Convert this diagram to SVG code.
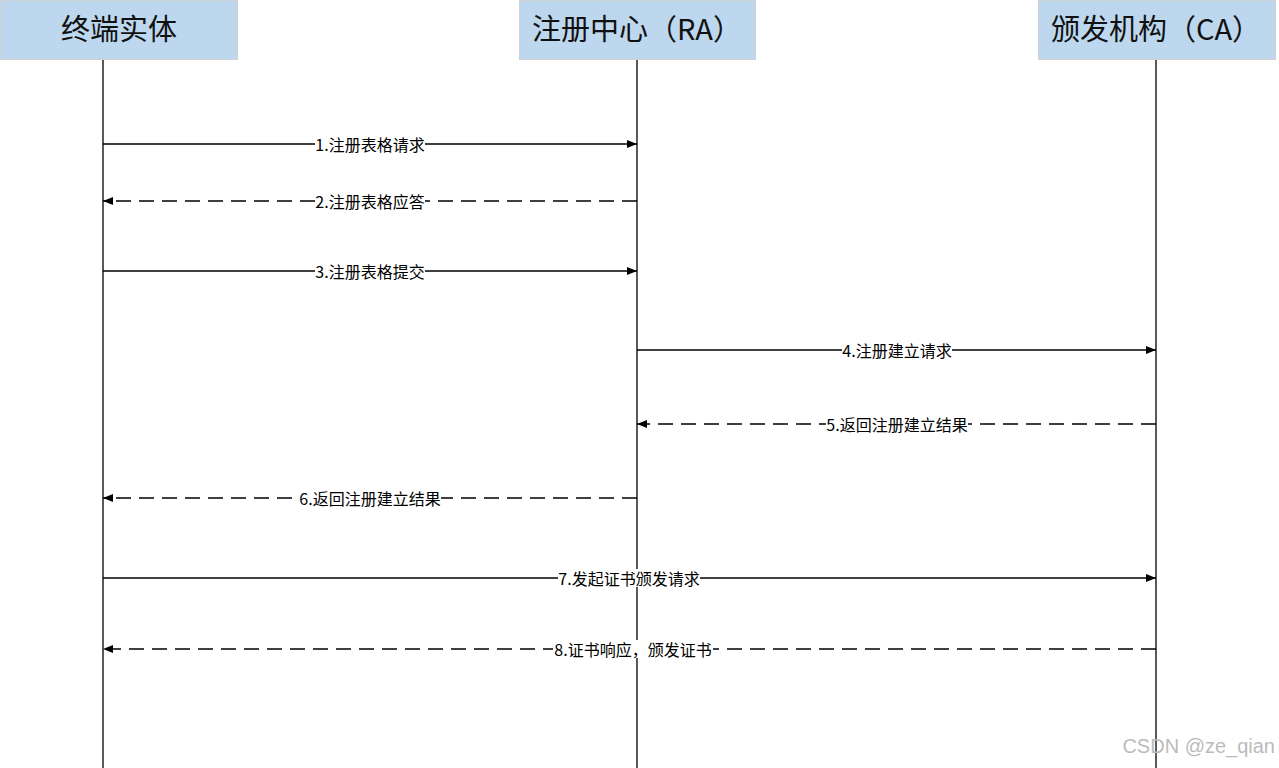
<svg xmlns="http://www.w3.org/2000/svg" width="1279" height="768" viewBox="0 0 1279 768">
<style>
.box{fill:#BDD7EE;stroke:#D0D0D0;stroke-width:1}
.hdr{font-family:"Noto Sans CJK SC","Noto Sans",sans-serif;font-size:29px;fill:#111;text-anchor:middle}
.life{stroke:#000;stroke-width:1.3;fill:none}
.msg{stroke:#000;stroke-width:1.3;fill:none}
.dash{stroke-dasharray:15 8}
.lbl{font-family:"Noto Sans CJK SC","Noto Sans",sans-serif;font-size:16px;fill:#000;text-anchor:middle;dominant-baseline:central}
.bg{fill:#fff}
</style>
<defs>
<marker id="ah" viewBox="0 0 10 8" refX="10" refY="4" markerWidth="10" markerHeight="8" markerUnits="userSpaceOnUse" orient="auto">
<path d="M0,0 L10,4 L0,8 Z" fill="#000"/>
</marker>
</defs>
<rect width="1279" height="768" fill="#fff"/>
<g id="lifelines">
<line class="life" x1="103" y1="59" x2="103" y2="768"/>
<line class="life" x1="637" y1="59" x2="637" y2="768"/>
<line class="life" x1="1156" y1="59" x2="1156" y2="768"/>
</g>
<g id="node-ee">
<rect class="box" x="0.5" y="0.5" width="237" height="59"/>
<text class="hdr" x="119" y="40">终端实体</text>
</g>
<g id="node-ra">
<rect class="box" x="519.5" y="0.5" width="236" height="59"/>
<text class="hdr" x="637" y="40">注册中心（RA）</text>
</g>
<g id="node-ca">
<rect class="box" x="1038.5" y="0.5" width="237" height="59"/>
<text class="hdr" x="1156" y="40">颁发机构（CA）</text>
</g>
<g id="connectors">
<line class="msg" x1="103" y1="144" x2="637" y2="144" marker-end="url(#ah)"/>
<line class="msg dash" x1="637" y1="201" x2="103" y2="201" marker-end="url(#ah)"/>
<line class="msg" x1="103" y1="271" x2="637" y2="271" marker-end="url(#ah)"/>
<line class="msg" x1="637" y1="350" x2="1156" y2="350" marker-end="url(#ah)"/>
<line class="msg dash" x1="1156" y1="424" x2="637" y2="424" marker-end="url(#ah)"/>
<line class="msg dash" x1="637" y1="498" x2="103" y2="498" marker-end="url(#ah)"/>
<line class="msg" x1="103" y1="578" x2="1156" y2="578" marker-end="url(#ah)"/>
<line class="msg dash" x1="1156" y1="649" x2="103" y2="649" marker-end="url(#ah)"/>
<rect class="bg" x="315" y="135" width="110" height="18"/>
<text class="lbl" x="370" y="144">1.注册表格请求</text>
<rect class="bg" x="315" y="192" width="110" height="18"/>
<text class="lbl" x="370" y="201">2.注册表格应答</text>
<rect class="bg" x="315" y="262" width="110" height="18"/>
<text class="lbl" x="370" y="271">3.注册表格提交</text>
<rect class="bg" x="842" y="341" width="110" height="18"/>
<text class="lbl" x="897" y="350">4.注册建立请求</text>
<rect class="bg" x="826" y="415" width="142" height="18"/>
<text class="lbl" x="897" y="424">5.返回注册建立结果</text>
<rect class="bg" x="299" y="489" width="142" height="18"/>
<text class="lbl" x="370" y="498">6.返回注册建立结果</text>
<rect class="bg" x="558" y="569" width="142" height="18"/>
<text class="lbl" x="629" y="578">7.发起证书颁发请求</text>
<rect class="bg" x="553" y="640" width="160" height="18"/>
<text class="lbl" x="633" y="649">8.证书响应，颁发证书</text>
</g>
<text x="1275" y="753" font-family="Liberation Sans,Arial,sans-serif" font-size="20" fill="#BBBBBB" text-anchor="end">CSDN @ze_qian</text>
</svg>
